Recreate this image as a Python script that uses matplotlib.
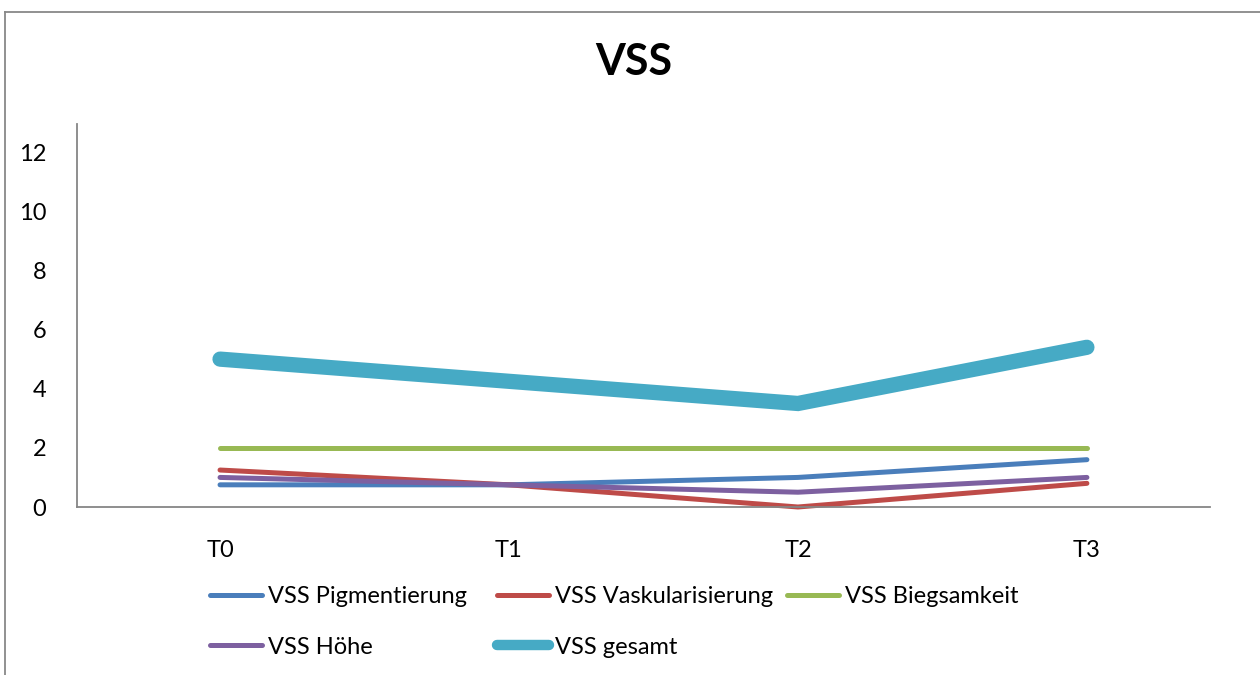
import matplotlib
matplotlib.use("Agg")
import matplotlib.pyplot as plt
from matplotlib.lines import Line2D

# Messzeitpunkte und VSS-Werte
zeitpunkte = ["T0", "T1", "T2", "T3"]
pigmentierung = [0.75, 0.75, 1.0, 1.6]
vaskularisierung = [1.25, 0.75, 0.0, 0.8]
biegsamkeit = [2.0, 2.0, 2.0, 2.0]
hoehe = [1.0, 0.75, 0.5, 1.0]
gesamt = [5.0, 4.25, 3.5, 5.4]
y_ticks = [0, 2, 4, 6, 8, 10, 12]

plt.rcParams['font.family'] = ['Lato', 'DejaVu Sans']

fig = plt.figure(figsize=(12.6, 6.75), dpi=100)
ax = fig.add_axes([77/1260, 1-507/675, (1210-77)/1260, (507-124)/675])

x = range(len(zeitpunkte))
kw = dict(solid_capstyle='round', solid_joinstyle='miter')
l_pig, = ax.plot(x, pigmentierung, color='#4A7EBB', lw=3.6, label='VSS Pigmentierung', **kw)
l_vas, = ax.plot(x, vaskularisierung, color='#BE4B48', lw=3.6, label='VSS Vaskularisierung', **kw)
l_bie, = ax.plot(x, biegsamkeit, color='#98B954', lw=3.6, label='VSS Biegsamkeit', **kw)
l_hoe, = ax.plot(x, hoehe, color='#7D60A0', lw=3.6, label='VSS Höhe', **kw)
l_ges, = ax.plot(x, gesamt, color='#46AAC5', lw=11, label='VSS gesamt', **kw)
for l in (l_pig, l_vas, l_bie, l_hoe, l_ges):
    l.set_clip_on(False)

ax.set_xlim(-0.495, 3.426)
ax.set_ylim(0, 12.95)
ax.set_xticks(list(x))
ax.set_xticklabels(zeitpunkte)
ax.set_yticks(y_ticks)
ax.tick_params(axis='both', length=0, labelsize=17)
ax.tick_params(axis='y', pad=22)
ax.tick_params(axis='x', pad=24)
for s in ('top', 'right'):
    ax.spines[s].set_visible(False)
for s in ('left', 'bottom'):
    ax.spines[s].set_color('#868686')
    ax.spines[s].set_linewidth(1.3)

fig.text(634/1260, 1-62/675, 'VSS', ha='center', va='center',
         fontsize=31, fontweight='bold')

# Legende in drei Spalten wie in Excel
leg_kw = dict(frameon=False, fontsize=17, handlelength=2.2, handletextpad=0.25,
              labelspacing=1.25, borderpad=0, borderaxespad=0, loc='upper left')
spalten = [([l_pig, l_hoe], 210), ([l_vas, l_ges], 497), ([l_bie], 787)]
for handles, xpos in spalten:
    lg = fig.legend(handles=handles, labels=[h.get_label() for h in handles],
                    bbox_to_anchor=(xpos/1260, 1-586/675), **leg_kw)
    for hl in lg.get_lines():
        if hl.get_linewidth() > 5:
            hl.set_linewidth(7.5)

# Rahmen des Diagrammbereichs
fig.add_artist(Line2D([5/1260, 1], [1-12/675, 1-12/675], color='#888888', lw=1.3))
fig.add_artist(Line2D([5/1260, 5/1260], [0, 1-12/675], color='#888888', lw=1.3))

fig.savefig('out.png', dpi=100)
